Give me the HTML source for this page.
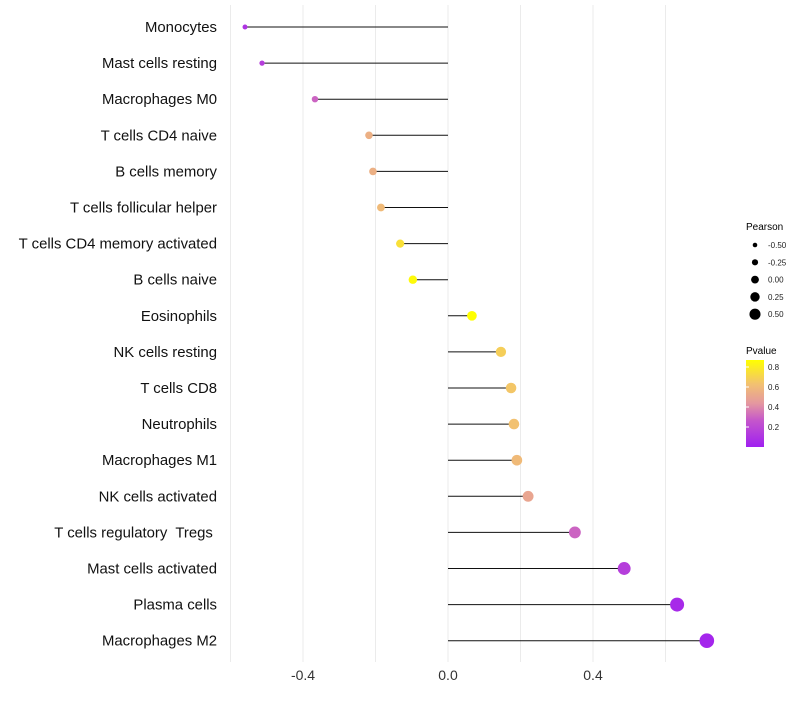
<!DOCTYPE html>
<html><head><meta charset="utf-8"><style>
body{margin:0;background:#fff;font-family:"Liberation Sans",sans-serif}
text{white-space:pre}
</style></head><body>
<svg id="c" width="800" height="700" xmlns="http://www.w3.org/2000/svg">
<defs><linearGradient id="pg" x1="0" y1="1" x2="0" y2="0">
<stop offset="0" stop-color="#a020f0"/><stop offset="0.3" stop-color="#c455cc"/><stop offset="0.5" stop-color="#e497a0"/><stop offset="0.72" stop-color="#f2c072"/><stop offset="1" stop-color="#ffff00"/>
</linearGradient></defs>
<g id="grid"></g><g id="marks"></g><g id="labels"></g>
<g font-size="9" fill="#000">
<text x="746" y="230" font-size="10">Pearson</text>
</g>
<g id="sizeleg"></g>
<g>
<text x="746" y="354" font-size="10">Pvalue</text>
<rect x="746" y="360" width="18" height="87" fill="url(#pg)"/>
</g>
<g id="colleg"></g>
</svg>
<script>
const categories=["Monocytes","Mast cells resting","Macrophages M0","T cells CD4 naive","B cells memory","T cells follicular helper","T cells CD4 memory activated","B cells naive","Eosinophils","NK cells resting","T cells CD8","Neutrophils","Macrophages M1","NK cells activated","T cells regulatory  Tregs ","Mast cells activated","Plasma cells","Macrophages M2"];
const pearson=[-0.56,-0.513,-0.367,-0.218,-0.207,-0.185,-0.132,-0.097,0.066,0.146,0.174,0.182,0.19,0.221,0.35,0.486,0.632,0.714];
const pvalue=[0.1,0.15,0.3,0.55,0.55,0.6,0.75,0.85,0.87,0.68,0.65,0.63,0.6,0.5,0.3,0.15,0.05,0.03];
const xTicks=[-0.4,0,0.4];
const sizeLegend=[-0.5,-0.25,0,0.25,0.5];
const colorTicks=[0.2,0.4,0.6,0.8];
const NS="http://www.w3.org/2000/svg";
const x=v=>448+v*362.5;
const y=i=>27+i*36.1;
const r=v=>Math.max(1.5,4.6+3.8*v);
const pmin=0,pmax=0.87;
const stops=[[0,[160,32,240]],[0.3,[196,85,204]],[0.5,[228,151,160]],[0.72,[242,192,114]],[1,[255,255,0]]];
function col(p){let t=Math.min(1,Math.max(0,(p-pmin)/(pmax-pmin)));for(let k=1;k<stops.length;k++){if(t<=stops[k][0]){const a=stops[k-1],b=stops[k],f=(t-a[0])/(b[0]-a[0]);return "rgb("+a[1].map((c,j)=>Math.round(c+(b[1][j]-c)*f)).join(",")+")";}}return "rgb(255,255,0)";}
function mk(tag,attrs,parent){const e=document.createElementNS(NS,tag);for(const k in attrs)e.setAttribute(k,attrs[k]);document.getElementById(parent).appendChild(e);return e;}
[-0.6,-0.4,-0.2,0,0.2,0.4,0.6].forEach(v=>{
 const l=mk("line",{x1:x(v),x2:x(v),y1:5,y2:662,stroke:"#ebebeb","stroke-width":1},"grid");
 
 
});
xTicks.forEach(v=>{
 const t=mk("text",{x:x(v),y:680,"font-size":"14","text-anchor":"middle",fill:"#333"},"labels");
 t.textContent=v===0?"0.0":v.toFixed(1);
 
 
});
categories.forEach((c,i)=>{
 const t=mk("text",{x:217,y:y(i)+5,"font-size":"14.9","text-anchor":"end",fill:"#111"},"labels");
 t.textContent=c;
 
 
 const l=mk("line",{x1:x(0),x2:x(pearson[i]),y1:y(i),y2:y(i),stroke:"#111","stroke-width":1},"marks");
 
 
 const d=mk("circle",{cx:x(pearson[i]),cy:y(i),r:r(pearson[i]),fill:col(pvalue[i])},"marks");
 
 
});
sizeLegend.forEach((v,k)=>{
 const cy=245+k*17.3;
 const d=mk("circle",{cx:755,cy:cy,r:r(v)*0.85,fill:"#000"},"sizeleg");
 
 
 const t=mk("text",{x:768,y:cy+3,"font-size":"8",fill:"#222"},"sizeleg");
 t.textContent=v.toFixed(2);
 
 
});
colorTicks.forEach(v=>{
 const cy=447-(v-pmin)/(pmax-pmin)*87;
 const t=mk("text",{x:768,y:cy+3,"font-size":"8",fill:"#222"},"colleg");
 t.textContent=v.toFixed(1);
 
 
 const l=mk("line",{x1:746,x2:749,y1:cy,y2:cy,stroke:"#fff"},"colleg");
 
 
});
</script>
</body></html>
